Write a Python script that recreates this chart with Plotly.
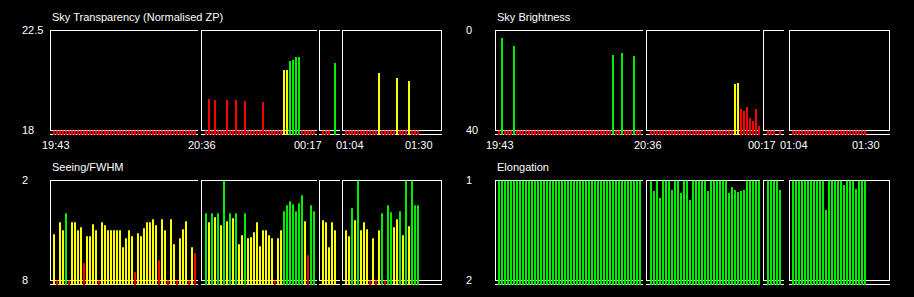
import plotly.graph_objects as go

W, H = 914, 297

# ---------------- data ----------------
panel_titles = ["Sky Transparency (Normalised ZP)", "Sky Brightness", "Seeing/FWHM", "Elongation"]
y_top_text = ["22.5", "0", "2", "1"]
y_bottom_text = ["18", "40", "8", "2"]
y_top_value = [22.5, 0, 2, 1]
y_bottom_value = [18, 40, 8, 2]
x_tick_labels = ["19:43", "20:36", "00:17", "01:04", "01:30"]

# quality cuts: green if better than good_cut, yellow if better than ok_cut, else red
higher_is_better = [True, False, False, False]
good_cut = [21.0, 15.0, 4.05, 1.4]
ok_cut = [20.0, 25.0, 6.2, 1.6]

# Sky transparency (normalised ZP); 18 = at/below floor, None = no bar
transp_seg1 = [18, 18, 18, 18, 18, 18, 18, 18, 18, 18, 18, 18,
               18, 18, 18, 18, 18, 18, 18, 18, 18, 18, 18, 18,
               18, 18, 18, 18, 18, 18, 18, 18, 18, 18, 18, 18,
               18, 18, 18, 18, 18, 18, 18, 18, 18, 18, 18, 18]
transp_seg2 = [18, 19.42, 18, 19.37, 18, 18, 18, 19.37, 18, 18, 19.37, 18,
               18, 19.33, 18, 18, 18, 18, 18, 19.28, 18, 18, 18, 18,
               18, 18, 20.72, 20.72, 21.13, 21.17, 21.31, 21.31, 18, 18, 18, 18, 18]
transp_seg3 = [18, 18, 18, None, 21.04]
transp_seg4 = [18, 18, 18, 18, 18, 18, 18, 18, 18, 18, 18, 20.59,
               18, 18, 18, 18, 18, 20.36, 18, 18, 18, 20.23, 18, 18, 18]

# Sky brightness
bright_seg1 = [40, 3.0, 40, 40, 40, 6.2, 40, 40, 40, 40, 40, 40,
               40, 40, 40, 40, 40, 40, 40, 40, 40, 40, 40, 40,
               40, 40, 40, 40, 40, 40, 40, 40, 40, 40, 40, 40,
               40, 40, 9.8, 40, 40, 9.0, 40, 40, 40, 10.2, 40, 40]
bright_seg2 = [40, 40, 40, 40, 40, 40, 40, 40, 40, 40, 40, 40,
               40, 40, 40, 40, 40, 40, 40, 40, 40, 40, 40, 40,
               40, 40, 40, 40, 21.4, 21.0, 31.4, 32.2, 30.6, 35.0, 36.2, 31.4, 38.2]
bright_seg3 = [40, 40, 40, None, 40]
bright_seg4 = [40, 40, 40, 40, 40, 40, 40, 40, 40, 40, 40, 40,
               40, 40, 40, 40, 40, 40, 40, 40, 40, 40, 40, 40, 40]

# Seeing / FWHM
seeing_seg1 = [5.22, 8, 4.5, 4.98, 3.96, 8, 4.5, 4.5, 4.98, 4.8, 6.96, 5.34,
               5.34, 4.62, 4.98, 8, 4.5, 4.68, 4.98, 4.98, 4.98, 4.98, 4.98, 6.0,
               5.46, 4.98, 5.34, 7.5, 5.16, 5.34, 4.86, 4.5, 4.5, 4.32, 4.68, 6.78,
               4.32, 4.98, 8, 4.32, 5.82, 8, 5.46, 4.92, 4.44, 8, 6.0, 6.36]
seeing_seg2 = [3.96, 4.5, 3.96, 4.2, 3.96, 4.68, 2.0, 4.44, 3.96, 4.26, 3.96, 5.82,
               5.28, 3.96, 5.46, 5.4, 5.1, 4.5, 5.94, 4.98, 4.98, 5.28, 5.46, 8,
               5.46, 4.98, 3.84, 3.48, 3.24, 3.42, 3.84, 3.36, 2.88, 4.44, 6.48, 3.48, 3.84]
seeing_seg3 = [4.38, 4.5, 6.0, 4.5, 4.98]
seeing_seg4 = [4.98, 5.34, 3.66, 4.38, 2.0, 4.98, 4.5, 4.92, 8, 5.46, 8, 4.98,
               3.96, 8, 3.48, 3.9, 4.8, 4.32, 3.84, 5.28, 2.0, 4.74, 2.0, 3.48, 3.48]

# Elongation
elong_seg1 = [1.0, 1.0, 1.0, 1.0, 1.0, 1.0, 1.0, 1.0, 1.0, 1.0, 1.0, 1.0,
              1.0, 1.0, 1.0, 1.0, 1.0, 1.0, 1.0, 1.0, 1.0, 1.0, 1.0, 1.0,
              1.0, 1.0, 1.0, 1.0, 1.0, 1.0, 1.0, 1.0, 1.0, 1.0, 1.0, 1.0,
              1.0, 1.0, 1.0, 1.0, 1.0, 1.0, 1.0, 1.0, 1.0, 1.0, 1.0, 1.0]
elong_seg2 = [1.0, 1.105, 1.0, 1.175, 1.0, 1.0, 1.0, 1.095, 1.0, 1.0, 1.125, 1.0,
              1.0, 1.195, 1.0, 1.0, 1.0, 1.0, 1.0, 1.105, 1.0, 1.0, 1.0, 1.0,
              1.0, 1.0, 1.125, 1.065, 1.095, 1.115, 1.105, 1.095, 1.0, 1.0, 1.0, 1.0, 1.0]
elong_seg3 = [1.0, 1.0, 1.0, 1.0, 1.095]
elong_seg4 = [1.0, 1.0, 1.0, 1.0, 1.0, 1.0, 1.0, 1.0, 1.0, 1.0, 1.0, 1.295,
              1.0, 1.0, 1.0, 1.0, 1.0, 1.045, 1.0, 1.0, 1.0, 1.085, 1.0, 1.0, 1.0]

panels = [
    [transp_seg1, transp_seg2, transp_seg3, transp_seg4],
    [bright_seg1, bright_seg2, bright_seg3, bright_seg4],
    [seeing_seg1, seeing_seg2, seeing_seg3, seeing_seg4],
    [elong_seg1, elong_seg2, elong_seg3, elong_seg4],
]

# ---------------- layout geometry (pixels) ----------------
GREEN, YELLOW, RED, WHITE = "#00ee00", "#ffff00", "#ff0000", "#ffffff"
FONT = "Liberation Sans, Arial, sans-serif"

panel_col = [0, 1, 0, 1]
panel_row = [0, 0, 1, 1]
row_off = [0, 150]
BOX_TOP, BOX_BOT, BASE_LINE, BAR_BASE = 30.5, 130.5, 134.5, 135.0
SLOT = 3.0

seg_first_bar = [[53, 205, 322, 345], [498, 650, 767, 792]]
seg_box_left = [[50.5, 201.5, 319.5, 342.5], [495.5, 646.5, 763.5, 789.5]]
seg_box_right = [[198, 317, 340, 441.5], [643, 760, 784, 889.5]]

title_x = [52, 497]
title_y = 16.8
ytick_x = [21.5, 466.5]
xtick_y = 145.3
xtick_px = [[55.5, 202, 307.5, 350, 419], [500.5, 647.5, 761.5, 794, 866]]


def px_x(p):
    return p / W


def px_y(p):
    return 1 - p / H


def colour(p, v):
    if higher_is_better[p]:
        if v >= good_cut[p]:
            return GREEN
        if v >= ok_cut[p]:
            return YELLOW
        return RED
    if v <= good_cut[p]:
        return GREEN
    if v <= ok_cut[p]:
        return YELLOW
    return RED


fig = go.Figure()
layout = {}
shapes = []
annotations = []
ax_i = 0

for p in range(4):
    col, row = panel_col[p], panel_row[p]
    yo = row_off[row]
    top, bot = y_top_value[p], y_bottom_value[p]
    base = bot - (BAR_BASE - BOX_BOT) / (BOX_BOT - BOX_TOP) * (top - bot)
    lo, hi = min(top, bot), max(top, bot)
    ykey = "yaxis" if p == 0 else f"yaxis{p + 1}"
    yname = "y" if p == 0 else f"y{p + 1}"
    layout[ykey] = dict(domain=[px_y(yo + BAR_BASE), px_y(yo + BOX_TOP)],
                        range=[base, top], visible=False, fixedrange=True)

    for s in range(4):
        ax_i += 1
        xkey = "xaxis" if ax_i == 1 else f"xaxis{ax_i}"
        xname = "x" if ax_i == 1 else f"x{ax_i}"
        vals = panels[p][s]
        n = len(vals)
        x0 = seg_first_bar[col][s] - 0.5
        layout[xkey] = dict(domain=[px_x(x0), px_x(x0 + SLOT * n)],
                            range=[-0.5, n - 0.5], visible=False,
                            fixedrange=True, anchor=yname)
        xs, ys, cs = [], [], []
        for i, v in enumerate(vals):
            if v is None:
                continue
            d = min(max(v, lo), hi)
            xs.append(i)
            ys.append(d - base)
            cs.append(colour(p, v))
        fig.add_trace(go.Bar(x=xs, y=ys, base=base, width=2 / 3,
                             marker=dict(color=cs, line=dict(width=0)),
                             xaxis=xname, yaxis=yname, hoverinfo="skip"))

        L = seg_box_left[col][s]
        R = seg_box_right[col][s]
        hr = R + 0.5 if s == 3 else R
        line = dict(color=WHITE, width=1)
        for yy in (BOX_TOP, BOX_BOT, BASE_LINE):
            shapes.append(dict(type="line", xref="paper", yref="paper",
                               x0=px_x(L - 0.5), x1=px_x(hr),
                               y0=px_y(yo + yy), y1=px_y(yo + yy),
                               line=line, layer="below"))
        shapes.append(dict(type="line", xref="paper", yref="paper",
                           x0=px_x(L), x1=px_x(L),
                           y0=px_y(yo + BOX_TOP - 0.5), y1=px_y(yo + BOX_BOT + 0.5),
                           line=line, layer="below"))
        if s == 3:
            shapes.append(dict(type="line", xref="paper", yref="paper",
                               x0=px_x(R), x1=px_x(R),
                               y0=px_y(yo + BOX_TOP - 0.5), y1=px_y(yo + BOX_BOT + 0.5),
                               line=line, layer="below"))

    txt = dict(xref="paper", yref="paper", showarrow=False, borderpad=0,
               borderwidth=0, font=dict(family=FONT, size=11, color=WHITE))
    annotations.append(dict(text=panel_titles[p], x=px_x(title_x[col]),
                            y=px_y(yo + title_y), xanchor="left", yanchor="middle", **txt))
    annotations.append(dict(text=y_top_text[p], x=px_x(ytick_x[col]),
                            y=px_y(yo + BOX_TOP - 0.5), xanchor="left", yanchor="middle", **txt))
    annotations.append(dict(text=y_bottom_text[p], x=px_x(ytick_x[col]),
                            y=px_y(yo + BOX_BOT - 0.5), xanchor="left", yanchor="middle", **txt))
    if row == 0:
        for lab, xp in zip(x_tick_labels, xtick_px[col]):
            annotations.append(dict(text=lab, x=px_x(xp), y=px_y(xtick_y),
                                    xanchor="center", yanchor="middle", **txt))

fig.update_layout(
    width=W, height=H, autosize=False,
    margin=dict(l=0, r=0, t=0, b=0, pad=0),
    paper_bgcolor="#000000", plot_bgcolor="#000000",
    showlegend=False, barmode="overlay",
    shapes=shapes, annotations=annotations,
    **layout,
)

fig.write_html("out.html", config={"displayModeBar": False, "staticPlot": True})
